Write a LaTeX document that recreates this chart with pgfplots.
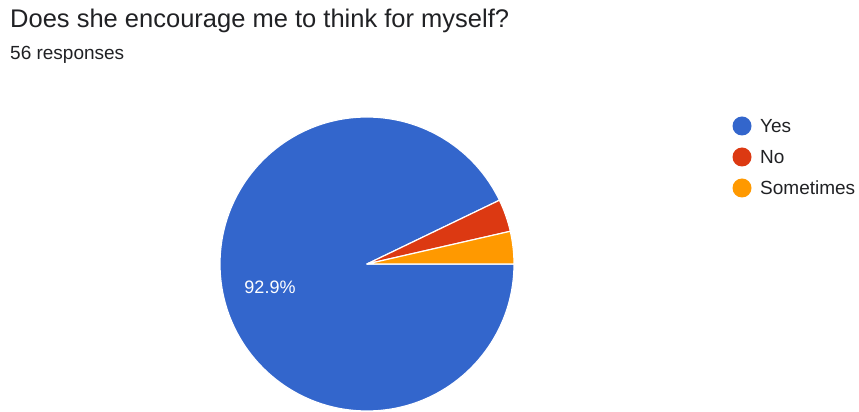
\documentclass[border=0pt]{standalone}
\usepackage{pgfplots}
\pgfplotsset{compat=1.18}
\usepackage{pgfplotstable}
\usepackage{fontspec}
\setmainfont{Liberation Sans}
\definecolor{cyes}{HTML}{3366CC}
\definecolor{cno}{HTML}{DC3912}
\definecolor{csome}{HTML}{FF9900}
\definecolor{ctitle}{HTML}{202124}
\definecolor{csub}{HTML}{202124}
\pgfplotstableread{
label value
Yes 52
No 2
Sometimes 2
}\piedata
\begin{document}
\begin{tikzpicture}
\pgfplotstablegetelem{0}{value}\of\piedata \let\va\pgfplotsretval
\pgfplotstablegetelem{1}{value}\of\piedata \let\vb\pgfplotsretval
\pgfplotstablegetelem{2}{value}\of\piedata \let\vc\pgfplotsretval
\pgfmathsetmacro\total{\va+\vb+\vc}
\pgfmathsetmacro\aA{-360*(\va/\total)}
\pgfmathsetmacro\aB{\aA-360*(\vb/\total)}
\pgfmathsetmacro\aC{\aB-360*(\vc/\total)}
\pgfmathsetmacro\pA{100*(\va/\total)}
\begin{axis}[
  width=859pt, height=412pt, scale only axis,
  xmin=0, xmax=859, ymin=0, ymax=412,
  hide axis, clip=false,
]
\addplot[draw=none] coordinates {(0,0) (859,412)};
\fill[cyes, draw=white, line width=1.2pt, line join=round] (axis cs:367,148) -- ++(0:147pt) arc[start angle=0, end angle=\aA, radius=147pt] -- cycle;
\fill[cno, draw=white, line width=1.2pt, line join=round] (axis cs:367,148) -- ++(\aA:147pt) arc[start angle=\aA, end angle=\aB, radius=147pt] -- cycle;
\fill[csome, draw=white, line width=1.2pt, line join=round] (axis cs:367,148) -- ++(\aB:147pt) arc[start angle=\aB, end angle=\aC, radius=147pt] -- cycle;
\node[anchor=center, text=white, font=\fontsize{18}{20}\selectfont] at (axis cs:270,125) {\pgfmathprintnumber[fixed,precision=1,assume math mode=true]{\pA}\%};
\node[anchor=base west, inner sep=0pt, text=ctitle, font=\fontsize{25.5}{28}\selectfont] at (axis cs:10,384) {Does she encourage me to think for myself?};
\node[anchor=base west, inner sep=0pt, text=csub, font=\fontsize{19}{21}\selectfont] at (axis cs:10,352) {56 responses};
\fill[cyes] (axis cs:742,286) circle[radius=9.5pt];
\fill[cno] (axis cs:742,255) circle[radius=9.5pt];
\fill[csome] (axis cs:742,224) circle[radius=9.5pt];
\node[anchor=base west, inner sep=0pt, text=ctitle, font=\fontsize{19}{21}\selectfont] at (axis cs:760,279) {Yes};
\node[anchor=base west, inner sep=0pt, text=ctitle, font=\fontsize{19}{21}\selectfont] at (axis cs:760,248) {No};
\node[anchor=base west, inner sep=0pt, text=ctitle, font=\fontsize{19}{21}\selectfont] at (axis cs:760,217) {Sometimes};
\end{axis}
\end{tikzpicture}
\end{document}
